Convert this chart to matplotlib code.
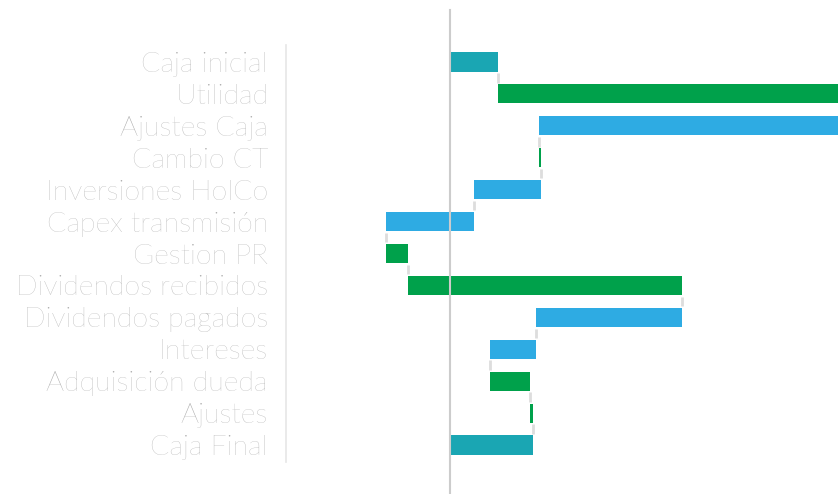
import numpy as np
import matplotlib
matplotlib.use("Agg")
import matplotlib.pyplot as plt

categorias = ["Caja inicial", "Utilidad", "Ajustes Caja", "Cambio CT",
              "Inversiones HolCo", "Capex transmisión", "Gestion PR",
              "Dividendos recibidos", "Dividendos pagados", "Intereses",
              "Adquisición dueda", "Ajustes", "Caja Final"]
# variaciones (la primera y la última son totales)
valores = [480, 4000, -3590, 20, -670, -880, 220, 2740, -1460, -460, 400, 30, 830]
tipo = ["total"] + ["delta"] * 11 + ["total"]

c_total = "#1aa6b3"
c_pos = "#00a14b"
c_neg = "#2eabe3"

# inicio y fin de cada barra
inicio, fin = [], []
acum = 0
for v, t in zip(valores, tipo):
    if t == "total":
        inicio.append(0)
        fin.append(v)
        acum = v
    else:
        inicio.append(acum)
        acum = acum + v
        fin.append(acum)
inicio = np.array(inicio)
fin = np.array(fin)

colores = []
for v, t in zip(valores, tipo):
    if t == "total":
        colores.append(c_total)
    elif v >= 0:
        colores.append(c_pos)
    else:
        colores.append(c_neg)

fig = plt.figure(figsize=(8.38, 4.94), dpi=100)
ax = fig.add_axes([286 / 838, 32 / 494, 552 / 838, 417 / 494])

y = np.arange(len(categorias))
alto = 0.6
ax.barh(y, fin - inicio, left=inicio, height=alto, color=colores)

# conectores entre barras
for i in range(len(categorias) - 1):
    ax.plot([fin[i], fin[i]], [y[i] + alto / 2 + 0.05, y[i + 1] - alto / 2 - 0.05],
            color="#dddddd", lw=2, solid_capstyle="butt")

ax.axvline(0, ymin=-0.077, ymax=1.084, color="#cccccc", lw=1.5, clip_on=False)

ax.set_xlim(-1640, 3880)
ax.set_ylim(12.53, -0.53)
ax.set_yticks(y)
ax.set_yticklabels(categorias, fontsize=20.5, family="Lato", fontweight="light",
                   color="#a9a9a9")
ax.tick_params(axis="y", length=0, pad=13)
ax.set_xticks([])
for s in ["top", "right", "bottom"]:
    ax.spines[s].set_visible(False)
ax.spines["left"].set_color("#e6e6e6")
ax.spines["left"].set_linewidth(1.2)

fig.savefig("out.png", dpi=100)
